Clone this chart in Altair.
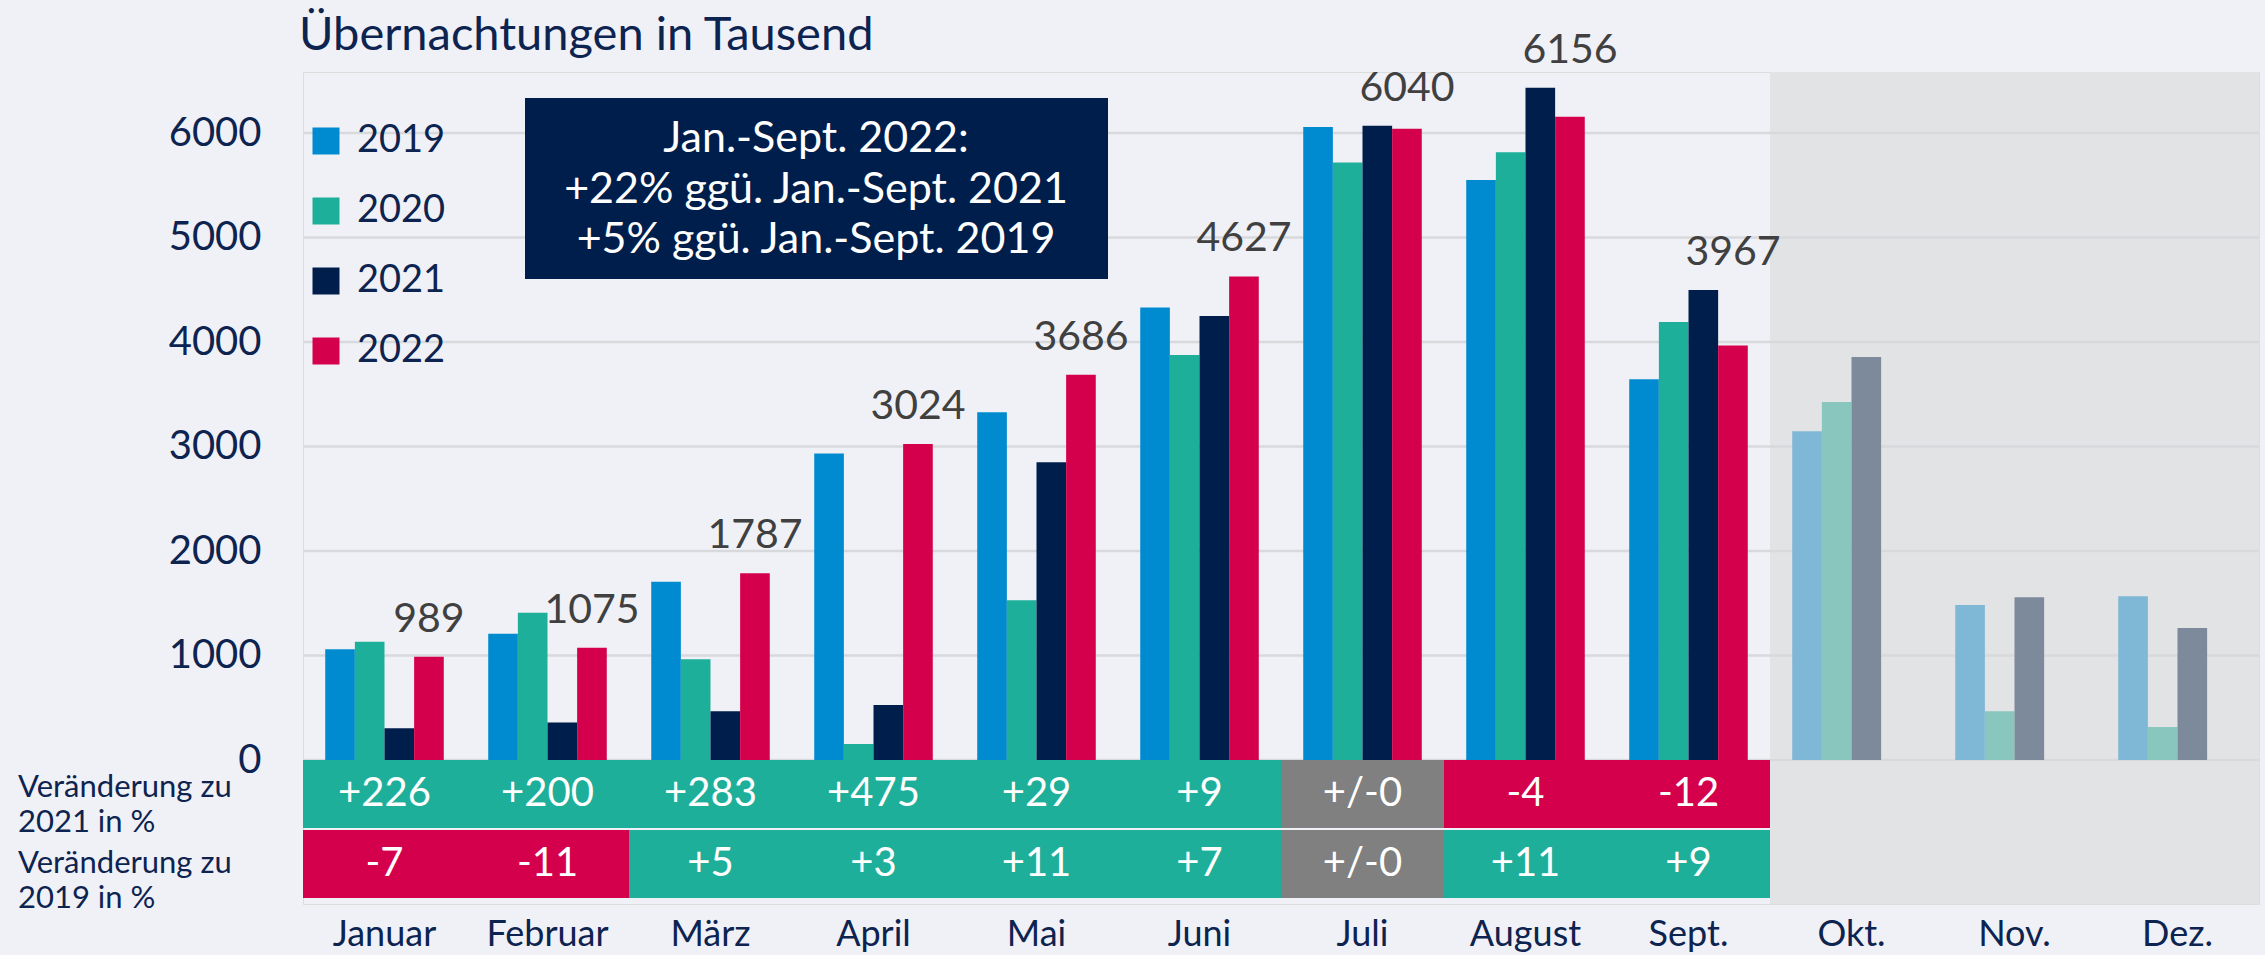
import altair as alt
import pandas as pd

# ---------------- data ----------------
months = ["Januar", "Februar", "März", "April", "Mai", "Juni", "Juli",
          "August", "Sept.", "Okt.", "Nov.", "Dez."]
years = ["2019", "2020", "2021", "2022"]
future_months = ["Okt.", "Nov.", "Dez."]

v2019 = [1059, 1209, 1705, 2934, 3327, 4330, 6057, 5550, 3643, 3145, 1483, 1566]
v2020 = [1132, 1410, 963, 153, 1528, 3876, 5719, 5815, 4191, 3426, 466, 316]
v2021 = [303, 358, 467, 526, 2850, 4250, 6070, 6434, 4498, 3856, 1557, 1263]
v2022 = [989, 1075, 1787, 3024, 3686, 4627, 6040, 6156, 3967]

chg_2021 = ["+226", "+200", "+283", "+475", "+29", "+9", "+/-0", "-4", "-12"]
chg_2019 = ["-7", "-11", "+5", "+3", "+11", "+7", "+/-0", "+11", "+9"]

grid_values = [0, 1000, 2000, 3000, 4000, 5000, 6000]

title_text = "Übernachtungen in Tausend"
box_lines = ["Jan.-Sept. 2022:", "+22% ggü. Jan.-Sept. 2021", "+5% ggü. Jan.-Sept. 2019"]
row_label_2021 = ["Veränderung zu", "2021 in %"]
row_label_2019 = ["Veränderung zu", "2019 in %"]

# ---------------- style ----------------
W, H = 1956, 832
NAVY = "#0D2350"
BG = "#F0F1F6"
FONT = "Lato"
bar_keys = ["2019", "2020", "2021", "2022", "2019f", "2020f", "2021f"]
bar_colors = ["#008BD0", "#1EAF9A", "#001E4B", "#D5004B", "#7FB7D6", "#89C6BE", "#7D8A9C"]

# ---------------- tables ----------------
rows = []
for yr, vals in zip(years, [v2019, v2020, v2021, v2022]):
    for i, v in enumerate(vals):
        m = months[i]
        rows.append({"month": m, "year": yr, "value": v,
                     "key": yr + ("f" if m in future_months else "")})
bars_df = pd.DataFrame(rows)
lab_df = pd.DataFrame({"month": months[:len(v2022)], "year": "2022", "value": v2022})
lab_df["label"] = lab_df["value"].astype(str)
# label sits above the 2022 bar, or above the neighbouring 2021 bar if that one is taller
lab_df["top"] = [max(a, b) for a, b in zip(v2021[:len(v2022)], v2022)]
grid_df = pd.DataFrame({"g": grid_values})
gray_df = pd.DataFrame({"month": future_months})

trows = []
for i, t in enumerate(chg_2021):
    trows.append({"month": months[i], "row": "2021", "t": t})
for i, t in enumerate(chg_2019):
    trows.append({"month": months[i], "row": "2019", "t": t})
tab_df = pd.DataFrame(trows)
tab_df["cat"] = ["zero" if t == "+/-0" else ("pos" if t.startswith("+") else "neg")
                 for t in tab_df["t"]]
one = pd.DataFrame({"a": [0]})

# ---------------- encodings ----------------
x_axis = alt.Axis(title=None, labelFontSize=36, labelColor=NAVY, labelFont=FONT,
                  labelPadding=41, labelBaseline="alphabetic", ticks=False,
                  domain=False, labelAngle=0, grid=False)
x_scale = alt.Scale(domain=months, paddingInner=0, paddingOuter=0)


def X():
    return alt.X("month:N", scale=x_scale, sort=months, axis=x_axis)


xoff = alt.XOffset("year:N", scale=alt.Scale(domain=years, paddingInner=0, paddingOuter=0.75))
y_scale = alt.Scale(domain=[-1378, 6584], nice=False, zero=False)
y_axis = alt.Axis(title=None, values=grid_values, format="d", labelFontSize=40,
                  labelColor=NAVY, labelFont=FONT, labelPadding=42, ticks=False,
                  domain=False, grid=False)

gray = alt.Chart(gray_df).mark_rect(color="#E2E3E5").encode(
    x=X(), y=alt.value(0), y2=alt.value(H))

grid = alt.Chart(grid_df).mark_rule(color="#D8D9DC", strokeWidth=2.5).encode(
    y=alt.Y("g:Q", scale=y_scale, axis=y_axis), x=alt.value(0), x2=alt.value(W))

bars = alt.Chart(bars_df).mark_bar().encode(
    x=X(), xOffset=xoff,
    y=alt.Y("value:Q", scale=y_scale, axis=y_axis, stack=None),
    y2=alt.datum(0),
    color=alt.Color("key:N", scale=alt.Scale(domain=bar_keys, range=bar_colors),
                    legend=alt.Legend(orient="none", legendX=4, legendY=50, values=years,
                                      title=None, symbolType="square", symbolSize=729,
                                      symbolStrokeWidth=0, symbolOpacity=1,
                                      labelFontSize=38, labelColor=NAVY, labelFont=FONT,
                                      labelOffset=12, rowPadding=32, padding=0,
                                      direction="vertical")))

labels = alt.Chart(lab_df).mark_text(fontSize=41, color="#404040", font=FONT,
                                     baseline="alphabetic", dy=-25).encode(
    x=X(), xOffset=xoff,
    y=alt.Y("top:Q", scale=y_scale, axis=y_axis), text="label:N")

title = alt.Chart(one).mark_text(fontSize=47, color=NAVY, font=FONT, align="left",
                                 baseline="alphabetic").encode(
    x=alt.value(-4), y=alt.value(-22), text=alt.value(title_text))

box = alt.Chart(one).mark_rect(color="#001E4B").encode(
    x=alt.value(222), x2=alt.value(805), y=alt.value(26), y2=alt.value(207))
box_text = alt.Chart(one).mark_text(fontSize=43, color="white", font=FONT, align="center",
                                    baseline="alphabetic", lineHeight=50.5).encode(
    x=alt.value(513), y=alt.value(80), text=alt.value(box_lines))

rl1 = alt.Chart(one).mark_text(fontSize=31, color=NAVY, font=FONT, align="left",
                               baseline="alphabetic", lineHeight=35).encode(
    x=alt.value(-285), y=alt.value(725), text=alt.value(row_label_2021))
rl2 = alt.Chart(one).mark_text(fontSize=31, color=NAVY, font=FONT, align="left",
                               baseline="alphabetic", lineHeight=35).encode(
    x=alt.value(-285), y=alt.value(801), text=alt.value(row_label_2019))

main = alt.layer(gray, grid, bars, labels, title, box, box_text, rl1, rl2)

ty = alt.Y("row:N", scale=alt.Scale(domain=["2021", "2019"], range=[688, 826],
                                     paddingInner=0.03, paddingOuter=0), axis=None)
cells = alt.Chart(tab_df).mark_rect().encode(
    x=X(), y=ty,
    color=alt.Color("cat:N", scale=alt.Scale(domain=["pos", "neg", "zero"],
                                             range=["#1EAF9A", "#D5004B", "#808080"]),
                    legend=None))
cell_text = alt.Chart(tab_df).mark_text(fontSize=40, color="white", font=FONT,
                                        baseline="middle").encode(
    x=X(), y=ty, text="t:N")
table = alt.layer(cells, cell_text)

chart = alt.layer(main, table).resolve_scale(y="independent", color="independent").properties(
    width=W, height=H,
    autosize=alt.AutoSizeParams(type="none"),
    padding={"left": 303, "top": 72, "right": 6, "bottom": 51},
    background=BG,
).configure_view(stroke=None).configure(font=FONT)

chart.save("out.html", embed_options={"renderer": "svg", "actions": False})
